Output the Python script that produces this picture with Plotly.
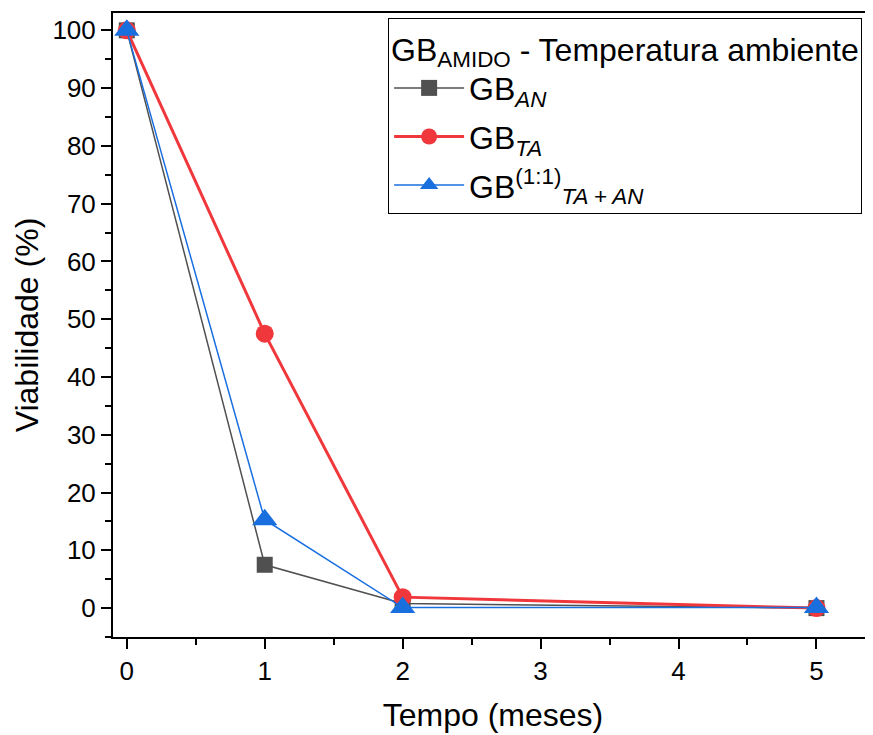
import plotly.graph_objects as go

tempo = [0, 1, 2, 5]
gb_an = [100, 7.5, 0.8, 0.0]
gb_ta = [100, 47.5, 1.9, 0.0]
gb_mix = [100, 15.3, 0.1, 0.1]

x_ticks = [0, 1, 2, 3, 4, 5]
y_ticks = [0, 10, 20, 30, 40, 50, 60, 70, 80, 90, 100]

FONT = "Liberation Sans"

fig = go.Figure()
fig.add_trace(go.Scatter(
    x=tempo, y=gb_an, mode="lines+markers", name="GB<i><sub>AN</sub></i>",
    legendgroup="a",
    line=dict(color="#505050", width=1.5),
    marker=dict(symbol="square", size=16, color="#505050"),
))
fig.add_trace(go.Scatter(
    x=tempo, y=gb_ta, mode="lines+markers", name="GB<i><sub>TA</sub></i>",
    legendgroup="b",
    line=dict(color="#F0383C", width=3),
    marker=dict(symbol="circle", size=18, color="#F0383C"),
))
fig.add_trace(go.Scatter(
    x=tempo, y=gb_mix, mode="lines+markers", name="GB<sup>(1:1)</sup><i><sub>TA + AN</sub></i>",
    legendgroup="c",
    line=dict(color="#1A6FDF", width=1.5),
    marker=dict(symbol="triangle-up", size=22, color="#1A6FDF"),
))

# page body has an 8px margin, so the figure is offset by 8px
fig.update_layout(
    width=865, height=727,
    margin=dict(l=105, r=0, t=5, b=98),
    paper_bgcolor="white", plot_bgcolor="white",
    font=dict(family=FONT, color="black", size=26),
    showlegend=True,
    legend=dict(
        x=0.362, y=0.992, xanchor="left", yanchor="top",
        bordercolor="black", borderwidth=1, bgcolor="white",
        font=dict(size=32, family=FONT),
        title=dict(text="GB<sub>AMIDO</sub> - Temperatura ambiente",
                   font=dict(size=32, family=FONT)),
        itemwidth=70, tracegroupgap=4,
    ),
    xaxis=dict(
        range=[-0.1, 5.41], tickvals=x_ticks, ticktext=[str(v) for v in x_ticks],
        showgrid=False, zeroline=False, showline=True, linecolor="black", linewidth=2,
        mirror=True, ticks="outside", ticklen=10, tickwidth=2, tickcolor="black",
        minor=dict(ticks="outside", ticklen=6, tickwidth=2, tickcolor="black", dtick=0.5, tick0=0),
        tickfont=dict(size=26, family=FONT), automargin=False,
        title=dict(text="Tempo (meses)", font=dict(size=32, family=FONT), standoff=18),
    ),
    yaxis=dict(
        range=[-5, 103], tickvals=y_ticks, ticktext=[str(v) for v in y_ticks],
        showgrid=False, zeroline=False, showline=True, linecolor="black", linewidth=2,
        mirror=False, ticks="outside", ticklen=10, tickwidth=2, tickcolor="black",
        minor=dict(ticks="outside", ticklen=6, tickwidth=2, tickcolor="black", dtick=5, tick0=0),
        tickfont=dict(size=26, family=FONT), automargin=False,
        title=dict(text="Viabilidade (%)", font=dict(size=32, family=FONT), standoff=4),
    ),
)

fig.write_html("out.html")
